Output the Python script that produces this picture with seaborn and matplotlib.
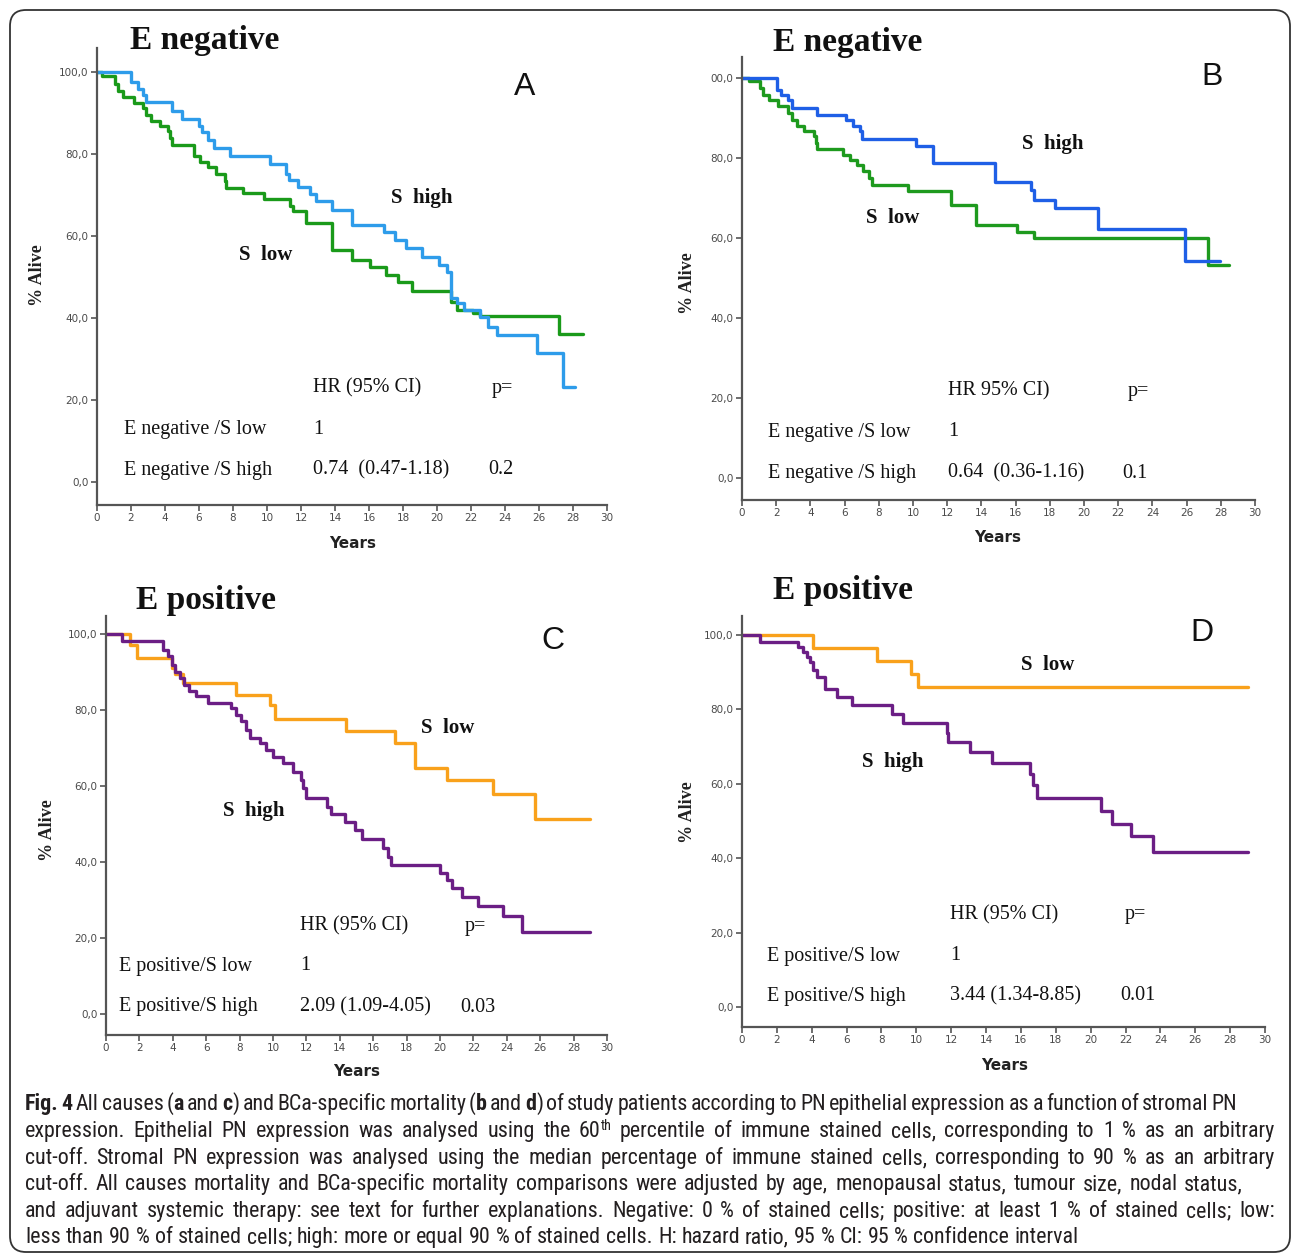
import re
import pandas as pd
import matplotlib
matplotlib.use("Agg")
import matplotlib.pyplot as plt
import seaborn as sns
from matplotlib import font_manager
from matplotlib.font_manager import FontProperties
from matplotlib.patches import FancyBboxPatch
from matplotlib.transforms import IdentityTransform

W, H = 1292, 1255

# --- Kaplan-Meier steps: (years, % alive) ---
# A: E negative, all causes
a_high_t = [0, 2.0, 2.4, 2.7, 2.9, 4.4, 5.0, 6.0, 6.2, 6.5, 6.9, 7.8, 10.2, 11.1, 11.3, 11.8, 12.5,
            12.9, 13.8, 15.0, 16.9, 17.5, 18.2, 19.1, 20.1, 20.6, 20.8, 21.2, 21.6, 22.5, 23.0, 23.5,
            25.9, 27.4, 28.1]
a_high_v = [100, 97.5, 95.8, 94.3, 92.6, 90.5, 88.6, 86.8, 85.3, 83.4, 81.4, 79.6, 77.6, 75.2, 73.6,
            72.0, 70.3, 68.5, 66.3, 62.7, 61.0, 59.0, 57.0, 55.0, 53.0, 51.2, 45.0, 43.6, 42.0, 40.2,
            37.8, 35.9, 31.4, 23.2, 23.2]
a_low_t = [0, 0.3, 1.05, 1.25, 1.55, 2.15, 2.7, 2.9, 3.2, 3.7, 4.2, 4.3, 4.4, 5.7, 6.05, 6.55, 7.0,
           7.5, 7.6, 8.6, 9.8, 11.35, 11.5, 12.3, 13.8, 15.0, 16.05, 17.0, 17.7, 18.5, 20.8, 21.2,
           22.1, 22.5, 27.2, 28.6]
a_low_v = [100, 99, 97, 95.3, 94, 92.5, 91.3, 89.6, 88, 86.8, 85.6, 83.9, 82.3, 79.6, 78, 76.8, 75.1,
           73.5, 71.8, 70.4, 69.0, 67.2, 66.0, 63.1, 56.6, 54.1, 52.4, 50.5, 48.8, 46.6, 43.9, 42.0,
           41.2, 40.5, 36.1, 36.1]

# B: E negative, BCa-specific
b_high_t = [0, 2.03, 2.3, 2.7, 2.9, 4.4, 6.1, 6.5, 6.9, 7.0, 10.2, 11.15, 14.8, 16.9, 17.1, 18.3,
            20.8, 25.9, 27.95]
b_high_v = [100, 97.1, 95.8, 94.6, 92.5, 90.8, 89.6, 87.9, 86.7, 84.8, 83.0, 78.75, 74.1, 72.0, 69.5,
            67.4, 62.2, 54.3, 54.3]
b_low_t = [0, 0.4, 1.05, 1.25, 1.55, 2.1, 2.7, 2.9, 3.2, 3.6, 4.2, 4.3, 4.4, 5.9, 6.3, 6.7, 7.1, 7.4,
           7.6, 9.7, 12.2, 13.7, 16.06, 17.1, 27.25, 28.5]
b_low_v = [100, 99.2, 97.5, 95.8, 94.6, 92.9, 91.25, 89.6, 87.9, 86.7, 85.4, 83.75, 82.3, 80.8, 79.6,
           78.3, 76.7, 75.0, 73.3, 71.7, 68.3, 63.3, 61.6, 59.9, 53.25, 53.25]

# C: E positive, all causes
c_high_t = [0, 0.95, 3.4, 3.7, 3.95, 4.15, 4.45, 4.7, 4.95, 5.4, 6.1, 7.5, 7.8, 8.1, 8.4, 8.6, 9.2,
            9.6, 10.0, 10.6, 11.2, 11.7, 11.8, 12.0, 13.25, 13.5, 14.3, 14.9, 15.3, 16.6, 16.9, 17.05,
            20.0, 20.4, 20.7, 21.3, 22.3, 23.8, 24.9, 29.0]
c_high_v = [100, 98.2, 95.9, 94.1, 91.9, 90.1, 88.4, 86.6, 84.9, 83.6, 81.8, 80.5, 78.7, 77.0, 74.8,
            72.6, 71.3, 69.5, 67.7, 66.0, 63.8, 61.6, 59.4, 56.9, 54.6, 52.6, 50.6, 48.4, 46.0, 43.6,
            41.4, 39.2, 37.2, 35.2, 33.1, 30.9, 28.3, 25.8, 21.7, 21.7]
c_low_t = [0, 1.45, 1.85, 3.95, 4.15, 4.6, 7.8, 9.8, 10.1, 14.4, 17.3, 18.5, 20.4, 23.2, 25.7, 29.0]
c_low_v = [100, 97.2, 93.7, 91.0, 89.5, 87.2, 84.0, 81.2, 77.6, 74.5, 71.2, 64.7, 61.6, 57.9, 51.2, 51.2]

# D: E positive, BCa-specific
d_high_t = [0, 1.03, 3.23, 3.5, 3.7, 3.9, 4.1, 4.3, 4.76, 5.43, 6.29, 8.6, 9.25, 11.74, 11.84, 13.08,
            14.36, 16.52, 16.71, 16.9, 20.6, 21.2, 22.3, 23.6, 29.0]
d_high_v = [100, 98.0, 96.7, 95.4, 94.0, 92.7, 90.5, 88.7, 85.6, 83.4, 81.2, 78.7, 76.3, 73.6, 71.2,
            68.5, 65.6, 62.5, 59.8, 56.3, 52.7, 49.3, 46.0, 41.6, 41.6]
d_low_t = [0, 4.05, 7.75, 9.7, 10.1, 29.0]
d_low_v = [100, 96.4, 93.1, 89.6, 86.0, 86.0]

x_ticks = list(range(0, 31, 2))
y_ticks = [0, 20, 40, 60, 80, 100]
y_tick_labels = ["0,0", "20,0", "40,0", "60,0", "80,0", "100,0"]
y_tick_labels_b = ["0,0", "20,0", "40,0", "60,0", "80,0", "00,0"]  # top label is cut in panel B

# --- panel layout in pixels: left, top, right, bottom, y of 0 %, y of 100 % ---
panels = [
    dict(box=(97, 48, 607, 505), y0=482, y100=72,
         curves=[("S low", a_low_t, a_low_v, "#1a9a1a"), ("S high", a_high_t, a_high_v, "#2e9cea")],
         ylabels=y_tick_labels, title="E negative", title_xy=(205, 40), letter="A", letter_xy=(525, 87),
         notes=[("S  high", 422, 198), ("S  low", 266, 255)],
         ylab_xy=(38, 275), xlab_xy=(353, 544),
         table=[("HR (95% CI)", 313, 388), ("p=", 492, 388),
                ("E negative /S low", 124, 430), ("1", 313, 430),
                ("E negative /S high", 124, 470), ("0.74  (0.47-1.18)", 313, 470), ("0.2", 488, 470)]),
    dict(box=(742, 57, 1255, 500), y0=478, y100=78,
         curves=[("S low", b_low_t, b_low_v, "#1e9a1e"), ("S high", b_high_t, b_high_v, "#1f5fe6")],
         ylabels=y_tick_labels_b, title="E negative", title_xy=(848, 42), letter="B", letter_xy=(1212, 77),
         notes=[("S  high", 1053, 144), ("S  low", 893, 218)],
         ylab_xy=(688, 283), xlab_xy=(998, 538),
         table=[("HR 95% CI)", 948, 391), ("p=", 1128, 391),
                ("E negative /S low", 768, 432), ("1", 948, 432),
                ("E negative /S high", 768, 473), ("0.64  (0.36-1.16)", 948, 473), ("0.1", 1122, 473)]),
    dict(box=(106, 616, 607, 1035), y0=1014, y100=634,
         curves=[("S low", c_low_t, c_low_v, "#f9a11b"), ("S high", c_high_t, c_high_v, "#6b1e85")],
         ylabels=y_tick_labels, title="E positive", title_xy=(206, 600), letter="C", letter_xy=(553, 641),
         notes=[("S  low", 448, 728), ("S  high", 254, 811)],
         ylab_xy=(48, 830), xlab_xy=(357, 1072),
         table=[("HR (95% CI)", 300, 926), ("p=", 465, 926),
                ("E positive/S low", 119, 966), ("1", 300, 966),
                ("E positive/S high", 119, 1007), ("2.09 (1.09-4.05)", 300, 1007), ("0.03", 460, 1007)]),
    dict(box=(742, 616, 1265, 1027), y0=1007, y100=635,
         curves=[("S low", d_low_t, d_low_v, "#f9a11b"), ("S high", d_high_t, d_high_v, "#6b1e85")],
         ylabels=y_tick_labels, title="E positive", title_xy=(843, 590), letter="D", letter_xy=(1202, 633),
         notes=[("S  low", 1048, 665), ("S  high", 893, 762)],
         ylab_xy=(688, 812), xlab_xy=(1005, 1065),
         table=[("HR (95% CI)", 950, 915), ("p=", 1125, 915),
                ("E positive/S low", 767, 956), ("1", 950, 956),
                ("E positive/S high", 767, 996), ("3.44 (1.34-8.85)", 950, 996), ("0.01", 1120, 996)]),
]

caption = [
    ("**Fig.** **4** All causes (**a** and **c**) and BCa-specific mortality (**b** and **d**) of study patients "
     "according to PN epithelial expression as a function of stromal PN", 1237),
    ("expression. Epithelial PN expression was analysed using the 60^{th} percentile of immune stained cells, "
     "corresponding to 1 % as an arbitrary", 1275),
    ("cut-off. Stromal PN expression was analysed using the median percentage of immune stained cells, "
     "corresponding to 90 % as an arbitrary", 1275),
    ("cut-off. All causes mortality and BCa-specific mortality comparisons were adjusted by age, "
     "menopausal status, tumour size, nodal status,", 1243),
    ("and adjuvant systemic therapy: see text for further explanations. Negative: 0 % of stained cells; "
     "positive: at least 1 % of stained cells; low:", 1275),
    ("less than 90 % of stained cells; high: more or equal 90 % of stained cells. H: hazard ratio, "
     "95 % CI: 95 % confidence interval", None),
]
caption_y = [1104, 1131, 1158, 1184, 1211, 1237]

sns.set_theme(style="ticks")
plt.rcParams['font.family'] = ['DejaVu Sans']

fig = plt.figure(figsize=(W / 100, H / 100), dpi=100)


def fx(x):
    return x / W


def fy(y):
    return 1 - y / H


serif = "Liberation Serif"

for p in panels:
    left, top, right, bottom = p["box"]
    ax = fig.add_axes([fx(left), fy(bottom), (right - left) / W, (bottom - top) / H])
    rows = []
    for name, ts, vs, _ in p["curves"]:
        rows += [{"Years": t, "alive": v, "group": name} for t, v in zip(ts, vs)]
    df = pd.DataFrame(rows)
    palette = {name: col for name, _, _, col in p["curves"]}
    sns.lineplot(data=df, x="Years", y="alive", hue="group", palette=palette, estimator=None,
                 sort=False, drawstyle="steps-post", linewidth=2.4, legend=False, ax=ax)

    scale = (p["y0"] - p["y100"]) / 100.0
    ax.set_xlim(0, 30)
    ax.set_ylim((p["y0"] - bottom) / scale, (p["y0"] - top) / scale)
    ax.set_xticks(x_ticks)
    ax.set_xticklabels([str(t) for t in x_ticks])
    ax.set_yticks(y_ticks)
    ax.set_yticklabels(p["ylabels"])
    ax.tick_params(axis="both", direction="out", length=4, width=1.2, color="#555555",
                   labelsize=7.5, labelcolor="#4a4a4a", pad=2)
    sns.despine(ax=ax)
    for s in ("left", "bottom"):
        ax.spines[s].set_color("#555555")
        ax.spines[s].set_linewidth(1.6)

    ax.set_xlabel("Years", fontsize=11, fontweight="bold", color="#222222")
    ax.xaxis.set_label_coords(fx(p["xlab_xy"][0]), fy(p["xlab_xy"][1]), transform=fig.transFigure)
    ax.xaxis.label.set_va("center")
    ax.set_ylabel("% Alive", fontsize=13, fontweight="bold", family=serif, color="#222222")
    ax.yaxis.set_label_coords(fx(p["ylab_xy"][0]), fy(p["ylab_xy"][1]), transform=fig.transFigure)
    ax.yaxis.label.set_va("center")

    fig.text(fx(p["title_xy"][0]), fy(p["title_xy"][1]), p["title"], family=serif,
             fontweight="bold", fontsize=24, ha="center", va="center", color="#111111")
    fig.text(fx(p["letter_xy"][0]), fy(p["letter_xy"][1]), p["letter"], family="Liberation Sans",
             fontsize=23, ha="center", va="center", color="#111111")
    for txt, x, y in p["notes"]:
        fig.text(fx(x), fy(y), txt, family=serif, fontweight="bold", fontsize=15,
                 ha="center", va="center", color="#111111")
    for txt, x, y in p["table"]:
        fig.text(fx(x), fy(y), txt, family=serif, fontsize=14.5, ha="left", va="center",
                 color="#111111")


# --- caption: pick a narrow sans if one is installed, then justify word by word ---
def pick_caption_font():
    names = {f.name for f in font_manager.fontManager.ttflist}
    for fam in ["Liberation Sans Narrow", "Roboto Condensed", "Open Sans Condensed",
                "Noto Sans Condensed", "DejaVu Sans Condensed"]:
        if fam in names:
            return fam, "normal"
    for fam in ["DejaVu Sans", "Noto Sans", "Open Sans", "Roboto"]:
        try:
            path = font_manager.findfont(FontProperties(family=fam, stretch="condensed"),
                                         fallback_to_default=False)
        except Exception:
            continue
        if "ondensed" in path:
            return fam, "condensed"
    return "Liberation Sans", "normal"


cap_family, cap_stretch = pick_caption_font()
renderer = fig.canvas.get_renderer()


def parse_words(line):
    words = []
    for w in line.split(" "):
        segs = []
        for part in re.split(r"(\*\*.+?\*\*|\^\{.+?\})", w):
            if not part:
                continue
            if part.startswith("**"):
                segs.append((part[2:-2], "bold", False))
            elif part.startswith("^{"):
                segs.append((part[2:-1], "normal", True))
            else:
                segs.append((part, "normal", False))
        words.append(segs)
    return words


def cap_text(x, y, s, size, weight="normal"):
    return fig.text(x, y, s, family=cap_family, fontstretch=cap_stretch, fontsize=size,
                    fontweight=weight, ha="left", va="baseline", color="#231f20")


def text_width(s, size, weight="normal"):
    t = cap_text(0, 0, s, size, weight)
    w = t.get_window_extent(renderer=renderer).width
    t.remove()
    return w


def natural_width(line, size):
    words = parse_words(line)
    space = text_width("a a", size) - text_width("aa", size)
    total = 0
    for segs in words:
        for s, wt, sup in segs:
            total += text_width(s, size * (0.65 if sup else 1), wt)
    return total + space * (len(words) - 1)


cap_left = 25
base = 10.0
# a touch larger than the natural fit of line 1; its word gaps shrink to compensate
cap_size = 1.04 * base * (caption[0][1] - cap_left) / natural_width(caption[0][0], base)

for (line, right), yc in zip(caption, caption_y):
    words = parse_words(line)
    widths = []
    for segs in words:
        widths.append([text_width(s, cap_size * (0.65 if sup else 1), wt) for s, wt, sup in segs])
    space = text_width("a a", cap_size) - text_width("aa", cap_size)
    used = sum(sum(w) for w in widths)
    if right is not None and len(words) > 1:
        space = (right - cap_left - used) / (len(words) - 1)
    x = cap_left
    base_y = yc + 6
    for segs, ws in zip(words, widths):
        for (s, wt, sup), w in zip(segs, ws):
            cap_text(fx(x), fy(base_y - (7 if sup else 0)), s, cap_size * (0.65 if sup else 1), wt)
            x += w
        x += space

# rounded frame around figure and caption
frame = FancyBboxPatch((10, 3), 1280, 1242, boxstyle="round,pad=0,rounding_size=16",
                       transform=IdentityTransform(), facecolor="none", edgecolor="#333333",
                       linewidth=1.3)
fig.add_artist(frame)

fig.savefig("out.png", dpi=100)
